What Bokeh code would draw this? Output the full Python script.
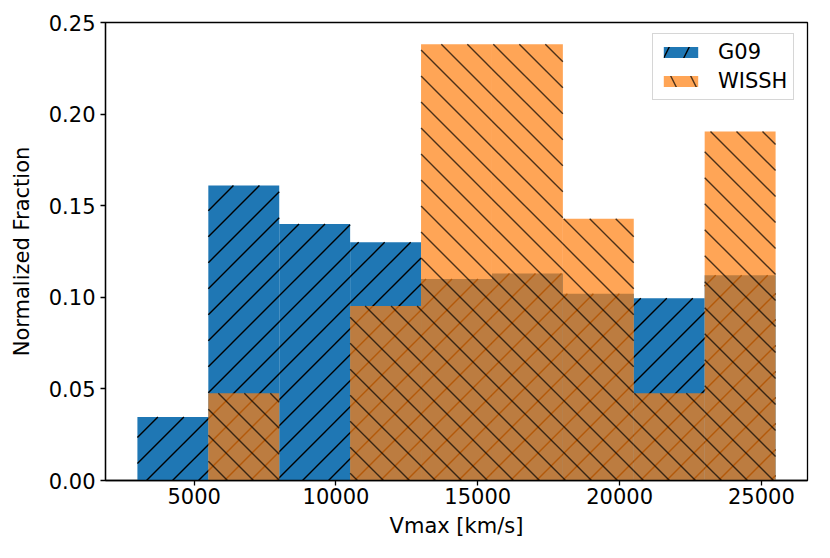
from bokeh.plotting import figure
from bokeh.models import (ColumnDataSource, FixedTicker, NumeralTickFormatter,
                          Range1d, Legend, LegendItem)
from bokeh.embed import file_html
from bokeh.resources import INLINE

# ---- data ----
bin_edges = [3000, 5500, 8000, 10500, 13000, 15500, 18000, 20500, 23000, 25500]
g09 = [0.0346, 0.161, 0.140, 0.130, 0.110, 0.113, 0.102, 0.0995, 0.112]
wissh = [0.0, 0.0476, 0.0, 0.0952, 0.2381, 0.2381, 0.1429, 0.0476, 0.1905]
x_ticks = [5000, 10000, 15000, 20000, 25000]
y_ticks = [0.0, 0.05, 0.10, 0.15, 0.20, 0.25]
series_names = ["G09", "WISSH"]

FONT = "DejaVu Sans"
FS = "21px"

# ---- layout (style) ----
W, H = 814, 542
BL, BR, BT, BB = 105, 7, 22, 62
X0, X1 = 1875, 26625
Y0, Y1 = 0.0, 0.25
FRAME_W = W - BL - BR
FRAME_H = H - BT - BB
SX = FRAME_W / (X1 - X0)   # px per data unit
SY = FRAME_H / (Y1 - Y0)

HATCH_STEP = 26.0


def hatch_segments(lefts, rights, tops, rising, phase):
    """45-degree hatch lines (in screen space) clipped to each bar."""
    xs0, ys0, xs1, ys1 = [], [], [], []
    for l, r, t in zip(lefts, rights, tops):
        if t <= 0:
            continue
        xl, xr, yt = (l - X0) * SX, (r - X0) * SX, (t - Y0) * SY
        if rising:   # x - y = c
            cmin, cmax = xl - yt, xr
        else:        # x + y = c
            cmin, cmax = xl, xr + yt
        k = int((cmin - phase) // HATCH_STEP) - 1
        while True:
            c = phase + k * HATCH_STEP
            k += 1
            if c > cmax + HATCH_STEP:
                break
            if rising:
                ya, yb = max(0.0, xl - c), min(yt, xr - c)
                if ya >= yb:
                    continue
                pa, pb = (ya + c, ya), (yb + c, yb)
            else:
                ya, yb = max(0.0, c - xr), min(yt, c - xl)
                if ya >= yb:
                    continue
                pa, pb = (c - ya, ya), (c - yb, yb)
            xs0.append(X0 + pa[0] / SX)
            ys0.append(Y0 + pa[1] / SY)
            xs1.append(X0 + pb[0] / SX)
            ys1.append(Y0 + pb[1] / SY)
    return dict(x0=xs0, y0=ys0, x1=xs1, y1=ys1)


p = figure(width=W, height=H, output_backend="svg", toolbar_location=None,
           x_range=Range1d(X0, X1), y_range=Range1d(Y0, Y1),
           min_border_left=BL, min_border_right=BR, min_border_top=BT,
           min_border_bottom=BB)

left = bin_edges[:-1]
right = bin_edges[1:]
src_g = ColumnDataSource(dict(left=left, right=right, top=g09))
src_w = ColumnDataSource(dict(left=left, right=right, top=wissh))

# G09: fill then "/" hatch
p.quad(left="left", right="right", top="top", bottom=0, source=src_g,
       fill_color="#1f77b4", fill_alpha=1.0, line_color=None)
p.segment(x0="x0", y0="y0", x1="x1", y1="y1",
          source=ColumnDataSource(hatch_segments(left, right, g09, True, 15.0)),
          line_color="black", line_width=1.4)
# WISSH: translucent fill then "\" hatch
p.quad(left="left", right="right", top="top", bottom=0, source=src_w,
       fill_color="#ff7f0e", fill_alpha=0.7, line_color=None)
p.segment(x0="x0", y0="y0", x1="x1", y1="y1",
          source=ColumnDataSource(hatch_segments(left, right, wissh, False, 18.0)),
          line_color="black", line_alpha=0.7, line_width=1.4)

# hidden hatched copies, used only to draw the legend swatches
lg_g = p.quad(left="left", right="right", top="top", bottom=0, source=src_g,
              fill_color="#1f77b4", line_color=None, hatch_pattern="/",
              hatch_color="black", hatch_weight=1.4, hatch_scale=40,
              visible=False)
lg_w = p.quad(left="left", right="right", top="top", bottom=0, source=src_w,
              fill_color="#ff7f0e", fill_alpha=0.7, line_color=None,
              hatch_pattern="\\", hatch_color="black", hatch_alpha=0.7,
              hatch_weight=1.4, hatch_scale=40, visible=False)

legend = Legend(items=[LegendItem(label=series_names[0], renderers=[lg_g]),
                       LegendItem(label=series_names[1], renderers=[lg_w])],
                location=(547, 380), margin=0, padding=6, spacing=5,
                glyph_width=43, glyph_height=14, label_standoff=16,
                label_text_font=FONT, label_text_font_size=FS,
                label_text_color="black",
                inactive_fill_alpha=0.0,
                border_line_color="#cccccc", border_line_width=1.2,
                border_line_alpha=0.8,
                background_fill_color="white", background_fill_alpha=0.8)
p.add_layout(legend)

p.xgrid.visible = False
p.ygrid.visible = False
p.outline_line_color = "black"
p.outline_line_width = 1.3
p.outline_line_alpha = 1.0

p.xaxis.ticker = FixedTicker(ticks=x_ticks)
p.yaxis.ticker = FixedTicker(ticks=y_ticks)
p.yaxis.formatter = NumeralTickFormatter(format="0.00")
p.xaxis.formatter = NumeralTickFormatter(format="0")
p.xaxis.axis_label = "Vmax [km/s]"
p.yaxis.axis_label = "Normalized Fraction"

for ax in (p.xaxis[0], p.yaxis[0]):
    ax.axis_line_color = "black"
    ax.axis_line_width = 1.3
    ax.major_tick_line_color = "black"
    ax.major_tick_line_width = 1.3
    ax.major_tick_out = 5
    ax.major_tick_in = 0
    ax.minor_tick_line_color = None
    ax.major_label_text_font = FONT
    ax.major_label_text_font_size = FS
    ax.major_label_text_color = "black"
    ax.axis_label_text_font = FONT
    ax.axis_label_text_font_size = FS
    ax.axis_label_text_font_style = "normal"
    ax.axis_label_text_color = "black"
p.xaxis.major_label_standoff = 2
p.yaxis.major_label_standoff = 5
p.xaxis.axis_label_standoff = 7
p.yaxis.axis_label_standoff = 12

open("out.html", "w").write(file_html(p, INLINE))
